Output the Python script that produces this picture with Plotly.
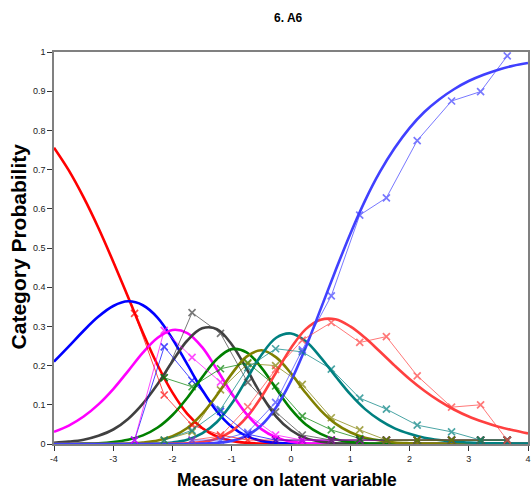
import plotly.graph_objects as go

# ---- model category probability curves ----
theta = [-4 + 0.25 * i for i in range(33)]
c0 = [0.756,0.698,0.629,0.551,0.465,0.375,0.284,0.201,0.131,0.077,0.041,0.019,0.008,0.003,0.001,0,0,0,0,0,0,0,0,0,0,0,0,0,0,0,0,0,0]
c1 = [0.21,0.249,0.289,0.325,0.352,0.364,0.354,0.322,0.268,0.203,0.138,0.083,0.044,0.02,0.008,0.003,0.001,0,0,0,0,0,0,0,0,0,0,0,0,0,0,0,0]
c2 = [0.031,0.047,0.07,0.101,0.14,0.186,0.233,0.271,0.291,0.283,0.247,0.19,0.129,0.076,0.038,0.017,0.006,0.002,0.001,0,0,0,0,0,0,0,0,0,0,0,0,0,0]
c3 = [0.003,0.006,0.011,0.021,0.037,0.064,0.103,0.153,0.211,0.264,0.295,0.293,0.254,0.192,0.125,0.07,0.035,0.015,0.006,0.002,0.001,0,0,0,0,0,0,0,0,0,0,0,0]
c4 = [0,0,0.001,0.002,0.005,0.011,0.022,0.042,0.074,0.118,0.17,0.217,0.242,0.234,0.195,0.141,0.089,0.05,0.026,0.012,0.005,0.002,0.001,0,0,0,0,0,0,0,0,0,0]
c5 = [0,0,0,0,0,0.001,0.004,0.009,0.02,0.041,0.077,0.125,0.179,0.223,0.239,0.221,0.18,0.13,0.086,0.052,0.03,0.016,0.009,0.004,0.002,0.001,0.001,0,0,0,0,0,0]
c6 = [0,0,0,0,0,0,0,0.001,0.004,0.011,0.027,0.056,0.103,0.165,0.227,0.271,0.282,0.262,0.221,0.173,0.127,0.089,0.061,0.04,0.026,0.016,0.01,0.006,0.004,0.002,0.002,0.001,0.001]
c7 = [0,0,0,0,0,0,0,0,0.001,0.002,0.005,0.014,0.033,0.068,0.12,0.183,0.245,0.293,0.317,0.318,0.3,0.271,0.236,0.2,0.166,0.136,0.11,0.088,0.07,0.056,0.044,0.035,0.027]
c8 = [0,0,0,0,0,0,0,0,0,0,0.001,0.003,0.008,0.021,0.048,0.094,0.161,0.247,0.344,0.442,0.536,0.621,0.694,0.755,0.806,0.847,0.879,0.905,0.926,0.942,0.955,0.965,0.972]
curves = [c0, c1, c2, c3, c4, c5, c6, c7, c8]

# ---- observed proportions per class interval ----
obs_x = [-2.64, -2.14, -1.67, -1.19, -0.73, -0.26, 0.19, 0.68, 1.16, 1.61, 2.13, 2.71, 3.20, 3.65]
obs0 = [0.333, 0.125, 0.048, 0.023, 0.01, 0.01, 0.01, 0.01, 0.01, 0.01, 0.01, 0.01, 0.01, 0.01]
obs1 = [0.01, 0.248, 0.162, 0.083, 0.025, 0.01, 0.01, 0.01, 0.01, 0.01, 0.01, 0.01, 0.01, 0.01]
obs2 = [0.01, 0.29, 0.221, 0.158, 0.074, 0.023, 0.01, 0.01, 0.01, 0.01, 0.01, 0.01, 0.01, 0.01]
obs3 = [None, 0.169, 0.335, 0.282, 0.157, 0.082, 0.023, 0.01, 0.01, 0.01, 0.01, 0.01, 0.01, 0.01]
obs4 = [None, 0.169, 0.146, 0.192, 0.207, 0.148, 0.071, 0.036, 0.014, 0.01, 0.01, 0.01, 0.01, 0.01]
obs5 = [None, 0.01, 0.031, 0.138, 0.205, 0.200, 0.152, 0.067, 0.036, 0.01, 0.01, 0.01, 0.01, 0.01]
obs6 = [None, 0.01, 0.035, 0.088, 0.195, 0.243, 0.235, 0.191, 0.117, 0.089, 0.048, 0.031, 0.01, 0.01]
obs7 = [None, None, 0.01, 0.02, 0.095, 0.190, 0.265, 0.310, 0.259, 0.274, 0.174, 0.094, 0.100, 0.01]
obs8 = [None, None, 0.01, 0.01, 0.03, 0.106, 0.240, 0.378, 0.584, 0.628, 0.774, 0.875, 0.899, 0.99]
observed = [obs0, obs1, obs2, obs3, obs4, obs5, obs6, obs7, obs8]

colors = ["#FF0000", "#0000FF", "#FF00FF", "#404040", "#008000",
          "#808000", "#008080", "#FF4040", "#4040FF"]
y_ticks = [0, 0.1, 0.2, 0.3, 0.4, 0.5, 0.6, 0.7, 0.8, 0.9, 1]
y_labels = ["0", "0.1", "0.2", "0.3", "0.4", "0.5", "0.6", "0.7", "0.8", "0.9", "1"]
x_ticks = [-4, -3, -2, -1, 0, 1, 2, 3, 4]

fig = go.Figure()
for k in range(9):
    fig.add_trace(go.Scatter(x=theta, y=curves[k], mode="lines", line_shape="spline",
                             line=dict(color=colors[k], width=2.6),
                             showlegend=False, hoverinfo="skip"))
for k in range(9):
    fig.add_trace(go.Scatter(x=obs_x, y=observed[k], mode="lines+markers",
                             line=dict(color=colors[k], width=1), opacity=0.7,
                             marker=dict(symbol="x-thin", size=7,
                                         line=dict(color=colors[k], width=1.7)),
                             showlegend=False, hoverinfo="skip", cliponaxis=True))

fig.update_layout(
    width=531, height=493,
    margin=dict(l=54, r=3, t=52, b=49, autoexpand=False),
    paper_bgcolor="white", plot_bgcolor="white",
    font=dict(family="Liberation Sans, Arial, sans-serif", color="#000"),
    title=dict(text="<b>6. A6</b>", x=0.494, xanchor="center", xref="paper",
               y=1 - 18 / 493, yref="container", yanchor="middle",
               font=dict(size=12)),
    annotations=[
        dict(text="<b>Measure on latent variable</b>", xref="paper", yref="paper",
             x=0.4916, y=-36 / 392, xanchor="center", yanchor="middle",
             showarrow=False, font=dict(size=17.5)),
        dict(text="<b>Category Probability</b>", xref="paper", yref="paper",
             x=-36 / 474, y=0.504, xanchor="center", yanchor="middle", textangle=-90,
             showarrow=False, font=dict(size=21)),
    ],
)
fig.update_xaxes(range=[-4, 4], tickmode="array", tickvals=x_ticks,
                 ticktext=[str(v) for v in x_ticks], automargin=False,
                 ticks="outside", ticklen=5, tickcolor="#333",
                 showgrid=False, zeroline=False,
                 showline=True, linecolor="#808080", linewidth=1.5, mirror=True,
                 tickfont=dict(size=9, color="#222"))
fig.update_yaxes(range=[0, 1], tickmode="array", tickvals=y_ticks, ticktext=y_labels,
                 automargin=False,
                 ticks="outside", ticklen=5, tickcolor="#333",
                 showgrid=False, zeroline=False,
                 showline=True, linecolor="#808080", linewidth=1.5, mirror=True,
                 tickfont=dict(size=9, color="#222"))

fig.write_html("out.html", config={"displayModeBar": False},
               post_script="document.body.style.margin='0';document.body.style.padding='0';"
                           "document.body.style.overflow='hidden';")
